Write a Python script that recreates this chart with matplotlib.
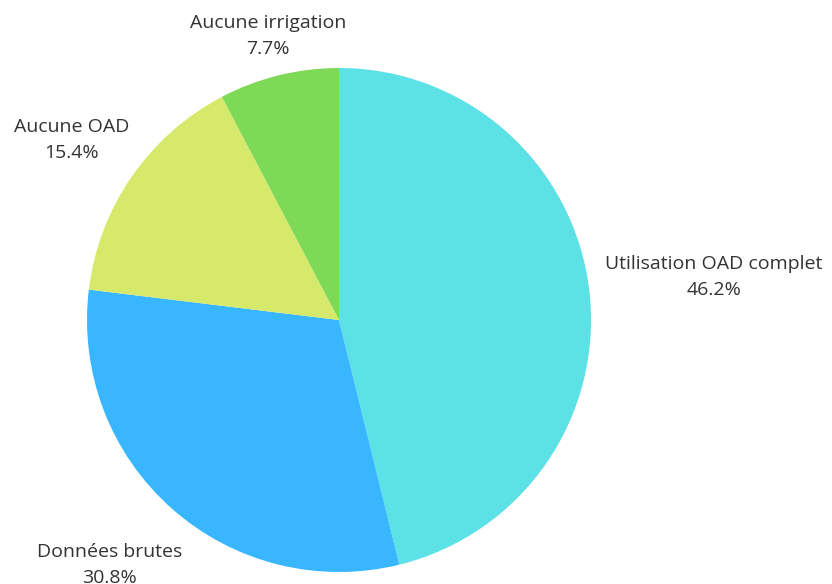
import matplotlib.pyplot as plt

labels = ['Utilisation OAD complet', 'Données brutes', 'Aucune OAD', 'Aucune irrigation']
shares = [46.2, 30.8, 15.4, 7.7]
colors = ['#5CE1E6', '#38B6FF', '#D7E96B', '#7ED957']

# where each label block sits, in pie units (radius 1)
label_xy = [(1.488, 0.171), (-0.909, -0.972), (-1.06, 0.714), (-0.282, 1.127)]

plt.rcParams['font.family'] = ['Open Sans', 'DejaVu Sans']

fig = plt.figure(figsize=(8.32, 5.84), dpi=100)
ax = fig.add_axes([87 / 832, 12 / 584, 504 / 832, 504 / 584])

ax.pie(shares, colors=colors, startangle=90, counterclock=False,
       radius=1, wedgeprops={'linewidth': 0})
ax.set_xlim(-1, 1)
ax.set_ylim(-1, 1)
ax.set_aspect('equal')
ax.axis('off')

for name, val, (x, y) in zip(labels, shares, label_xy):
    ax.text(x, y, f'{name}\n{val:.1f}%', ha='center', va='center',
            fontsize=14, color='#333333', linespacing=1.55, clip_on=False)

fig.savefig('out.png', dpi=100, facecolor='white')
